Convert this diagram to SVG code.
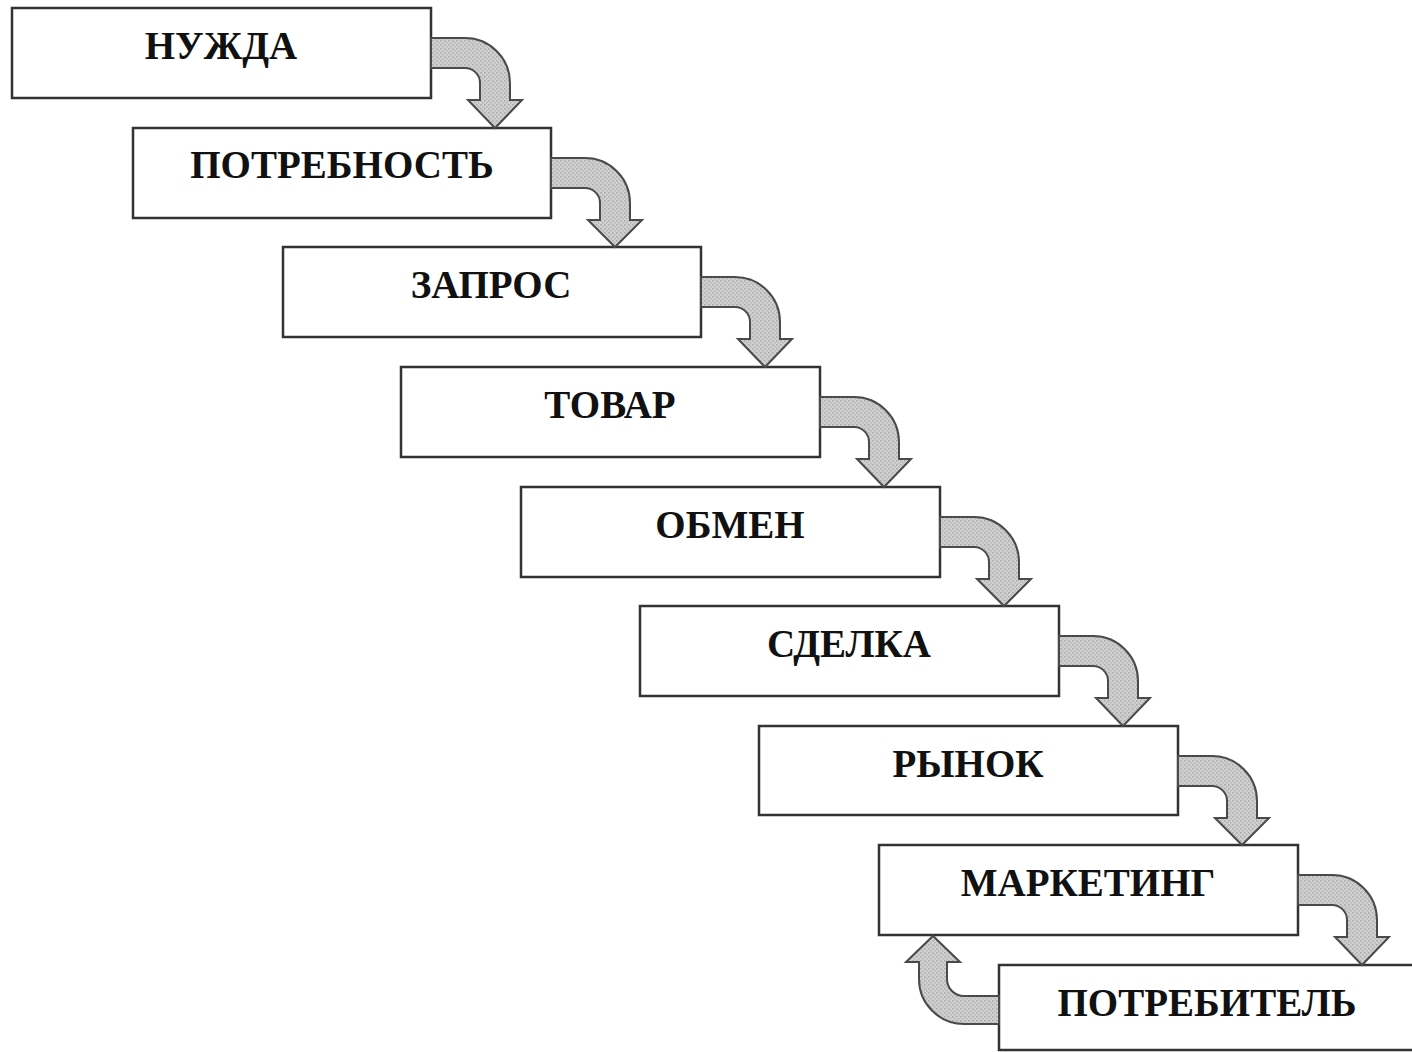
<svg xmlns="http://www.w3.org/2000/svg" width="1412" height="1052" viewBox="0 0 1412 1052">
<style>
.box{fill:#ffffff;stroke:#333333;stroke-width:2.5}
.lbl{font-family:"Liberation Serif","Times New Roman",serif;font-weight:bold;font-size:39px;fill:#111111;text-anchor:middle}
.arr{fill:url(#dots);stroke:#4a4a4a;stroke-width:2;stroke-linejoin:miter}
</style>
<defs>
<pattern id="dots" width="4" height="4" patternUnits="userSpaceOnUse">
<rect width="4" height="4" fill="#cfcfcf"/>
<rect x="0" y="0" width="1.5" height="1.5" fill="#a9a9a9"/>
<rect x="2" y="2" width="1.5" height="1.5" fill="#b5b5b5"/>
</pattern>
</defs>
<rect width="1412" height="1052" fill="#ffffff"/>
<g id="node-nuzhda"><rect class="box" x="12" y="8" width="419" height="90"/><text class="lbl" x="221" y="59">НУЖДА</text></g>
<g id="node-potrebnost"><rect class="box" x="133" y="128" width="418" height="90"/><text class="lbl" x="342" y="178">ПОТРЕБНОСТЬ</text></g>
<g id="node-zapros"><rect class="box" x="283" y="247" width="418" height="90"/><text class="lbl" x="491" y="298">ЗАПРОС</text></g>
<g id="node-tovar"><rect class="box" x="401" y="367" width="419" height="90"/><text class="lbl" x="610" y="418">ТОВАР</text></g>
<g id="node-obmen"><rect class="box" x="521" y="487" width="419" height="90"/><text class="lbl" x="730" y="538">ОБМЕН</text></g>
<g id="node-sdelka"><rect class="box" x="640" y="606" width="419" height="90"/><text class="lbl" x="849" y="657">СДЕЛКА</text></g>
<g id="node-rynok"><rect class="box" x="759" y="726" width="419" height="89"/><text class="lbl" x="968" y="777">РЫНОК</text></g>
<g id="node-marketing"><rect class="box" x="879" y="845" width="419" height="90"/><text class="lbl" x="1088" y="896">МАРКЕТИНГ</text></g>
<g id="node-potrebitel"><rect class="box" x="999" y="965" width="419" height="85"/><text class="lbl" x="1207" y="1016">ПОТРЕБИТЕЛЬ</text></g>
<g id="connectors">
<path class="arr" d="M431,38 H465 A45 45 0 0 1 510,83 V100 H522 L495,128 L468,100 H480 V83 A15 15 0 0 0 465,68 H431 Z"/>
<path class="arr" d="M551,158 H585 A45 45 0 0 1 630,203 V220 H642 L615,247 L588,220 H600 V203 A15 15 0 0 0 585,188 H551 Z"/>
<path class="arr" d="M701,277 H735 A45 45 0 0 1 780,322 V339 H792 L765,367 L738,339 H750 V322 A15 15 0 0 0 735,307 H701 Z"/>
<path class="arr" d="M820,397 H854 A45 45 0 0 1 899,442 V459 H911 L884,487 L857,459 H869 V442 A15 15 0 0 0 854,427 H820 Z"/>
<path class="arr" d="M940,517 H974 A45 45 0 0 1 1019,562 V579 H1031 L1004,606 L977,579 H989 V562 A15 15 0 0 0 974,547 H940 Z"/>
<path class="arr" d="M1059,636 H1093 A45 45 0 0 1 1138,681 V698 H1150 L1123,726 L1096,698 H1108 V681 A15 15 0 0 0 1093,666 H1059 Z"/>
<path class="arr" d="M1178,756 H1212 A45 45 0 0 1 1257,801 V818 H1269 L1242,845 L1215,818 H1227 V801 A15 15 0 0 0 1212,786 H1178 Z"/>
<path class="arr" d="M1298,875 H1332 A45 45 0 0 1 1377,920 V937 H1389 L1362,965 L1335,937 H1347 V920 A15 15 0 0 0 1332,905 H1298 Z"/>
<path class="arr" d="M999,996 H964 A17 17 0 0 1 947,979 V962 H960 L933,936 L906,962 H919 V979 A45 45 0 0 0 964,1024 H999 Z"/>
</g>
</svg>
